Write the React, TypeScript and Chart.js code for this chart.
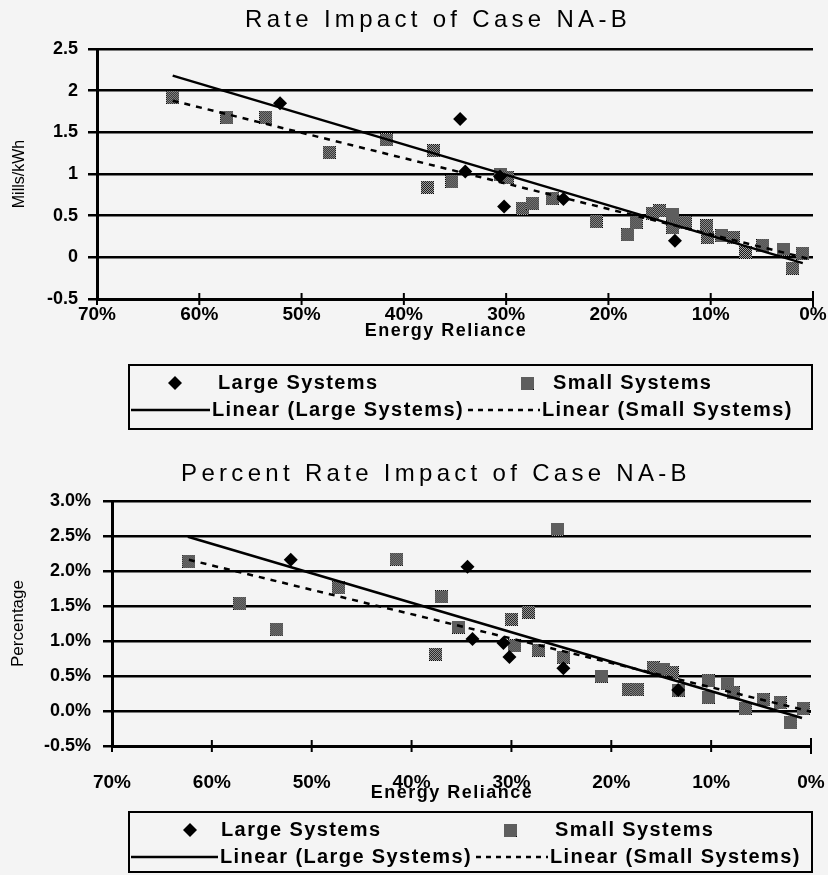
import React, { useEffect, useRef } from 'react';
import { Chart, registerables } from 'chart.js';

Chart.register(...registerables);

const FONT = '"Liberation Sans", Arial, Helvetica, sans-serif';
Chart.defaults.font.family = FONT;
Chart.defaults.color = '#000';

// ---- Rate impact, mills/kWh vs. energy reliance (%) ----
const millsLargeX = [52.1, 34.5, 34.0, 30.6, 30.2, 24.4, 13.5];
const millsLargeY = [1.85, 1.66, 1.03, 0.97, 0.61, 0.7, 0.2];

const millsSmallX = [62.6, 57.3, 53.5, 47.3, 41.7, 37.1, 37.7, 35.3, 30.6, 29.9, 28.4, 27.4, 25.5, 21.2, 18.1, 17.3, 15.7, 15.0, 13.7, 13.7, 12.5, 10.4, 10.3, 8.9, 7.8, 6.6, 4.9, 2.9, 2.0, 1.0];
const millsSmallY = [1.92, 1.68, 1.68, 1.26, 1.41, 1.28, 0.84, 0.91, 1.0, 0.96, 0.59, 0.65, 0.71, 0.43, 0.27, 0.42, 0.53, 0.56, 0.52, 0.36, 0.42, 0.38, 0.24, 0.26, 0.24, 0.06, 0.14, 0.1, -0.13, 0.05];

const millsLargeTrendX = [62.6, 1.0];
const millsLargeTrendY = [2.18, -0.07];
const millsSmallTrendX = [62.6, 0.0];
const millsSmallTrendY = [1.88, -0.03];

const millsTicks = [-0.5, 0, 0.5, 1, 1.5, 2, 2.5];

// ---- Percent rate impact vs. energy reliance (%) ----
const pctLargeX = [52.1, 34.4, 33.9, 30.8, 30.2, 24.8, 13.3];
const pctLargeY = [2.16, 2.06, 1.03, 0.97, 0.77, 0.61, 0.3];

const pctSmallX = [62.3, 57.2, 53.5, 47.3, 41.5, 37.0, 37.6, 35.3, 30.0, 28.3, 29.7, 27.3, 24.8, 25.4, 21.0, 18.3, 17.4, 15.8, 14.8, 13.9, 13.3, 10.3, 10.3, 8.4, 7.8, 6.6, 4.8, 3.1, 2.1, 0.8];
const pctSmallY = [2.14, 1.54, 1.17, 1.76, 2.17, 1.63, 0.81, 1.2, 1.31, 1.41, 0.93, 0.87, 0.77, 2.6, 0.5, 0.31, 0.31, 0.62, 0.6, 0.55, 0.3, 0.43, 0.2, 0.4, 0.26, 0.04, 0.16, 0.12, -0.17, 0.04];

const pctLargeTrendX = [62.4, 0.9];
const pctLargeTrendY = [2.49, -0.1];
const pctSmallTrendX = [62.3, 0.0];
const pctSmallTrendY = [2.16, -0.01];

const pctTicks = [-0.5, 0, 0.5, 1, 1.5, 2, 2.5, 3];

const relianceTicks = [0, 10, 20, 30, 40, 50, 60, 70];

const legendLabels = ['Large Systems', 'Small Systems', 'Linear (Large Systems)', 'Linear (Small Systems)'];

const BG = '#f4f4f4';

// Dithered grey square used for the small-system markers
let squareMarker: HTMLCanvasElement | null = null;
function getSquareMarker(): HTMLCanvasElement {
  if (squareMarker) return squareMarker;
  const size = 13;
  const c = document.createElement('canvas');
  c.width = size;
  c.height = size;
  const g = c.getContext('2d')!;
  for (let y = 0; y < size; y++) {
    for (let x = 0; x < size; x++) {
      g.fillStyle = (x + y) % 2 === 0 ? '#000' : '#bdbdbd';
      g.fillRect(x, y, 1, 1);
    }
  }
  squareMarker = c;
  return c;
}

const zip = (xs: number[], ys: number[]) => xs.map((x, i) => ({ x, y: ys[i] }));

// Title, x-axis caption, crossing tick marks and the boxed legend
const decorPlugin = {
  id: 'docDecor',
  afterDraw(chart: any, _args: any, opts: any) {
    const ctx: CanvasRenderingContext2D = chart.ctx;
    const xs = chart.scales.x;
    const bottom = chart.chartArea.bottom;
    ctx.save();
    ctx.fillStyle = '#000';
    ctx.strokeStyle = '#000';

    // chart title
    ctx.font = `24px ${FONT}`;
    (ctx as any).letterSpacing = '4.3px';
    ctx.textAlign = 'center';
    ctx.textBaseline = 'middle';
    ctx.fillText(opts.title, opts.titleX, opts.titleY);

    // x-axis caption
    ctx.font = `bold 18px ${FONT}`;
    (ctx as any).letterSpacing = '1.5px';
    ctx.fillText(opts.xTitle, opts.xTitleX, opts.xTitleY);
    (ctx as any).letterSpacing = '0px';

    // tick marks crossing the x axis
    ctx.lineWidth = 2;
    ctx.beginPath();
    xs.ticks.forEach((t: any) => {
      const px = xs.getPixelForValue(t.value);
      const h = t.value === 0 ? 8 : 6;
      ctx.moveTo(px, bottom - h);
      ctx.lineTo(px, bottom + h);
    });
    ctx.stroke();

    // legend
    const L = opts.legend;
    ctx.lineWidth = 2;
    ctx.strokeRect(L.left, L.top, L.right - L.left, L.bottom - L.top);

    // diamond
    ctx.beginPath();
    ctx.moveTo(L.diamondX, L.row1 - 7);
    ctx.lineTo(L.diamondX + 7, L.row1);
    ctx.lineTo(L.diamondX, L.row1 + 7);
    ctx.lineTo(L.diamondX - 7, L.row1);
    ctx.closePath();
    ctx.fill();

    // square
    const sq = getSquareMarker();
    ctx.drawImage(sq, L.squareX - sq.width / 2, L.row1 - sq.height / 2);

    // solid and dashed trend samples
    ctx.lineWidth = 2.5;
    ctx.beginPath();
    ctx.moveTo(L.solidFrom, L.row2);
    ctx.lineTo(L.solidTo, L.row2);
    ctx.stroke();
    ctx.setLineDash([5, 5]);
    ctx.beginPath();
    ctx.moveTo(L.dashFrom, L.row2);
    ctx.lineTo(L.dashTo, L.row2);
    ctx.stroke();
    ctx.setLineDash([]);

    ctx.font = `bold 20px ${FONT}`;
    (ctx as any).letterSpacing = '1.4px';
    ctx.textAlign = 'left';
    ctx.textBaseline = 'middle';
    ctx.fillText(legendLabels[0], L.largeTextX, L.row1);
    ctx.fillText(legendLabels[1], L.smallTextX, L.row1);
    ctx.fillText(legendLabels[2], L.linLargeX, L.row2);
    ctx.fillText(legendLabels[3], L.linSmallX, L.row2);
    ctx.restore();
  },
};

interface PanelSpec {
  height: number;
  padding: { top: number; right: number; bottom: number; left: number };
  yWidth: number;
  xHeight: number;
  xTickPad: number;
  yTickPad: number;
  yMin: number;
  yMax: number;
  yTicks: number[];
  yLabel: (v: number) => string;
  yTitle: string;
  yTitleSize: number;
  yTitlePad: number;
  largeX: number[];
  largeY: number[];
  smallX: number[];
  smallY: number[];
  largeTrendX: number[];
  largeTrendY: number[];
  smallTrendX: number[];
  smallTrendY: number[];
  decor: any;
}

function buildConfig(p: PanelSpec): any {
  return {
    type: 'scatter',
    data: {
      datasets: [
        {
          type: 'line',
          label: legendLabels[2],
          data: zip(p.largeTrendX, p.largeTrendY),
          borderColor: '#000',
          borderWidth: 2.5,
          pointRadius: 0,
          fill: false,
          order: 0,
        },
        {
          type: 'line',
          label: legendLabels[3],
          data: zip(p.smallTrendX, p.smallTrendY),
          borderColor: '#000',
          borderWidth: 2.5,
          borderDash: [6, 6],
          pointRadius: 0,
          fill: false,
          order: 1,
        },
        {
          label: legendLabels[0],
          data: zip(p.largeX, p.largeY),
          pointStyle: 'rectRot',
          pointRadius: 7,
          backgroundColor: '#000',
          borderColor: '#000',
          borderWidth: 0,
          order: 2,
        },
        {
          label: legendLabels[1],
          data: zip(p.smallX, p.smallY),
          pointStyle: getSquareMarker(),
          pointRadius: 6,
          order: 3,
        },
      ],
    },
    options: {
      animation: false,
      responsive: false,
      devicePixelRatio: 1,
      layout: { padding: p.padding },
      plugins: {
        legend: { display: false },
        tooltip: { enabled: false },
        title: { display: false },
        docDecor: p.decor,
      },
      scales: {
        x: {
          type: 'linear',
          min: 0,
          max: 70,
          reverse: true,
          afterBuildTicks: (s: any) => {
            s.ticks = relianceTicks.map((v) => ({ value: v }));
          },
          afterFit: (s: any) => {
            s.height = p.xHeight;
          },
          ticks: {
            padding: p.xTickPad,
            font: { size: 19, weight: 'bold' },
            color: '#000',
            maxRotation: 0,
            autoSkip: false,
            callback: (v: any) => `${v}%`,
          },
          grid: { drawOnChartArea: false, drawTicks: false },
          border: { display: true, color: '#000', width: 3 },
        },
        y: {
          type: 'linear',
          min: p.yMin,
          max: p.yMax,
          afterBuildTicks: (s: any) => {
            s.ticks = p.yTicks.map((v) => ({ value: v }));
          },
          afterFit: (s: any) => {
            s.width = p.yWidth;
          },
          ticks: {
            padding: p.yTickPad,
            font: { size: 18, weight: 'bold' },
            color: '#000',
            autoSkip: false,
            callback: (v: any) => p.yLabel(Number(v)),
          },
          grid: { color: '#000', lineWidth: 2.5, tickLength: 9, drawTicks: true },
          border: { display: true, color: '#000', width: 3 },
          title: {
            display: true,
            text: p.yTitle,
            color: '#000',
            font: { size: p.yTitleSize },
            padding: { top: p.yTitlePad, bottom: 0 },
          },
        },
      },
    },
    plugins: [decorPlugin],
  };
}

const topSpec: PanelSpec = {
  height: 445,
  padding: { top: 49, right: 15, bottom: 106, left: 0 },
  yWidth: 97,
  xHeight: 40,
  xTickPad: 4,
  yTickPad: 10,
  yMin: -0.5,
  yMax: 2.5,
  yTicks: millsTicks,
  yLabel: (v) => String(v),
  yTitle: 'Mills/kWh',
  yTitleSize: 16,
  yTitlePad: 10,
  largeX: millsLargeX,
  largeY: millsLargeY,
  smallX: millsSmallX,
  smallY: millsSmallY,
  largeTrendX: millsLargeTrendX,
  largeTrendY: millsLargeTrendY,
  smallTrendX: millsSmallTrendX,
  smallTrendY: millsSmallTrendY,
  decor: {
    title: 'Rate Impact of Case NA-B',
    titleX: 438,
    titleY: 20,
    xTitle: 'Energy Reliance',
    xTitleX: 446,
    xTitleY: 331,
    legend: {
      left: 129, top: 365, right: 812, bottom: 429, row1: 383, row2: 410,
      diamondX: 175, largeTextX: 218, squareX: 527, smallTextX: 553,
      solidFrom: 131, solidTo: 210, linLargeX: 212, dashFrom: 468, dashTo: 540, linSmallX: 542,
    },
  },
};

const bottomSpec: PanelSpec = {
  height: 430,
  padding: { top: 56, right: 17, bottom: 69, left: 0 },
  yWidth: 112,
  xHeight: 60,
  xTickPad: 25,
  yTickPad: 12,
  yMin: -0.5,
  yMax: 3.0,
  yTicks: pctTicks,
  yLabel: (v) => `${v.toFixed(1)}%`,
  yTitle: 'Percentage',
  yTitleSize: 17,
  yTitlePad: 8,
  largeX: pctLargeX,
  largeY: pctLargeY,
  smallX: pctSmallX,
  smallY: pctSmallY,
  largeTrendX: pctLargeTrendX,
  largeTrendY: pctLargeTrendY,
  smallTrendX: pctSmallTrendX,
  smallTrendY: pctSmallTrendY,
  decor: {
    title: 'Percent Rate Impact of Case NA-B',
    titleX: 436,
    titleY: 29,
    xTitle: 'Energy Reliance',
    xTitleX: 452,
    xTitleY: 348,
    legend: {
      left: 129, top: 367, right: 812, bottom: 427, row1: 385, row2: 412,
      diamondX: 190, largeTextX: 221, squareX: 510, smallTextX: 555,
      solidFrom: 131, solidTo: 218, linLargeX: 220, dashFrom: 476, dashTo: 548, linSmallX: 550,
    },
  },
};

function ChartPanel({ spec, top }: { spec: PanelSpec; top: number }) {
  const ref = useRef<HTMLCanvasElement>(null);
  useEffect(() => {
    if (!ref.current) return;
    const chart = new Chart(ref.current, buildConfig(spec));
    return () => chart.destroy();
  }, [spec]);
  return (
    <canvas
      ref={ref}
      width={828}
      height={spec.height}
      style={{ position: 'absolute', left: 0, top, width: 828, height: spec.height, display: 'block' }}
    />
  );
}

export default function App() {
  useEffect(() => {
    document.body.style.margin = '0';
    document.body.style.background = BG;
  }, []);
  return (
    <div style={{ position: 'absolute', left: 0, top: 0, width: 828, height: 875, background: BG, overflow: 'hidden' }}>
      <ChartPanel spec={topSpec} top={0} />
      <ChartPanel spec={bottomSpec} top={445} />
    </div>
  );
}
